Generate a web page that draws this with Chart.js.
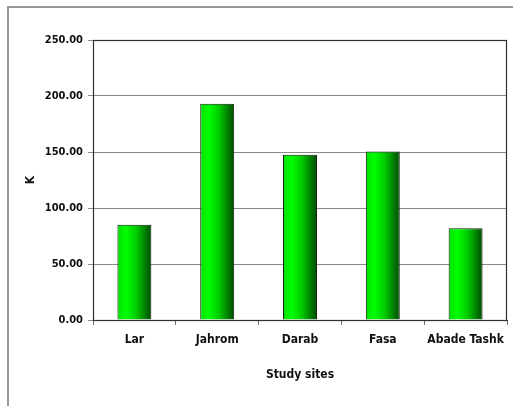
<!DOCTYPE html>
<html>
<head>
<meta charset="utf-8">
<script src="https://cdn.jsdelivr.net/npm/chart.js@4/dist/chart.umd.min.js"></script>
<style>
  html, body { margin: 0; padding: 0; background: #ffffff; }
  #wrap { position: relative; width: 513px; height: 406px; }
</style>
</head>
<body>
<div id="wrap"><canvas id="c" width="513" height="406"></canvas></div>
<script>
// Potassium (K) by study site
const sites = ['Lar', 'Jahrom', 'Darab', 'Fasa', 'Abade Tashk'];
const kValues = [85, 193, 147.5, 150.5, 82];
const yTicks = [0, 50, 100, 150, 200, 250];

const FONT = '"Liberation Sans Narrow", "DejaVu Sans Condensed", "Liberation Sans", Arial, sans-serif';
const BAR_PCT = 0.41;

// Horizontal shading for each bar: bright green on the left, dark green on the right
function barGradient(ctx) {
  const chart = ctx.chart;
  const xs = chart.scales && chart.scales.x;
  if (!xs || !chart.chartArea) return '#00dd00';
  const center = xs.getPixelForValue(ctx.dataIndex);
  const half = (xs.width / sites.length) * BAR_PCT / 2;
  const g = chart.ctx.createLinearGradient(center - half, 0, center + half, 0);
  g.addColorStop(0, '#00e000');
  g.addColorStop(0.25, '#00ff00');
  g.addColorStop(0.55, '#00cc00');
  g.addColorStop(1, '#004a00');
  return g;
}

// Outer frame lines and the plot-area border
const framePlugin = {
  id: 'frame',
  beforeDraw(chart) {
    const c = chart.ctx;
    c.save();
    c.strokeStyle = '#9a9a9a';
    c.lineWidth = 2;
    c.beginPath();
    c.moveTo(8, 406);
    c.lineTo(8, 7);
    c.lineTo(513, 7);
    c.stroke();
    c.restore();
  },
  afterDatasetsDraw(chart) {
    const a = chart.chartArea;
    const c = chart.ctx;
    c.save();
    c.strokeStyle = '#303030';
    c.lineWidth = 1.2;
    c.strokeRect(a.left + 0.5, a.top + 0.5, a.right - a.left - 1, a.bottom - a.top);
    c.restore();
  }
};

new Chart(document.getElementById('c'), {
  type: 'bar',
  data: {
    labels: sites,
    datasets: [{
      data: kValues,
      backgroundColor: barGradient,
      borderColor: '#062006',
      borderWidth: 1,
      categoryPercentage: 1,
      barPercentage: BAR_PCT
    }]
  },
  options: {
    responsive: false,
    animation: false,
    events: [],
    layout: { padding: { left: 0, top: 40, right: 6, bottom: 24 } },
    plugins: { legend: { display: false }, tooltip: { enabled: false } },
    scales: {
      x: {
        grid: {
          offset: true,
          drawOnChartArea: false,
          drawTicks: true,
          tickLength: 5,
          color: '#707070'
        },
        border: { display: true, color: '#303030', width: 1 },
        ticks: {
          color: '#111111',
          padding: 8,
          maxRotation: 0,
          autoSkip: false,
          font: { family: FONT, size: 12, weight: 'bold' }
        },
        title: {
          display: true,
          text: 'Study sites',
          color: '#111111',
          padding: { top: 0, bottom: 0 },
          font: { family: FONT, size: 12, weight: 'bold' }
        },
        afterFit(scale) { scale.height = 62; }
      },
      y: {
        min: 0,
        max: 250,
        afterBuildTicks(scale) { scale.ticks = yTicks.map(v => ({ value: v })); },
        grid: {
          color: '#8a8a8a',
          lineWidth: 1,
          drawTicks: true,
          tickLength: 5
        },
        border: { display: true, color: '#303030', width: 1 },
        ticks: {
          color: '#111111',
          padding: 5,
          font: { family: FONT, size: 11, weight: 'bold' },
          callback: v => Number(v).toFixed(2)
        },
        title: {
          display: true,
          text: 'K',
          color: '#111111',
          padding: { top: 24, bottom: 0 },
          font: { family: FONT, size: 12, weight: 'bold' }
        },
        afterFit(scale) { scale.width = 93; }
      }
    }
  },
  plugins: [framePlugin]
});
</script>
</body>
</html>
